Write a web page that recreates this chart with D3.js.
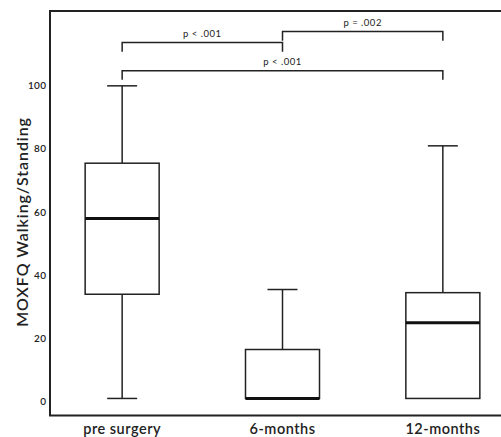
<!DOCTYPE html>
<html>
<head>
<meta charset="utf-8">
<script src="https://cdn.jsdelivr.net/npm/d3@7"></script>
<style>
  body { margin: 0; background: #fff; }
  text { font-family: Lato, "DejaVu Sans", sans-serif; fill: #222; }
</style>
</head>
<body>
<script>
var groups = ["pre surgery", "6-months", "12-months"];
var whiskerLow = [1, 1, 1];
var q1 = [34, 1, 1];
var median = [58, 1, 25];
var q3 = [75.5, 16.5, 34.5];
var whiskerHigh = [100, 35.5, 81];
var yTicks = [0, 20, 40, 60, 80, 100];

// significance brackets: from group, to group, height, label
var bracketFrom = ["pre surgery", "6-months", "pre surgery"];
var bracketTo = ["6-months", "12-months", "12-months"];
var bracketY = [113.7, 117.2, 104.8];
var bracketLabel = ["p < .001", "p = .002", "p < .001"];

function init() {
  var w = 501, h = 437;
  var pLeft = 50, pTop = 11, pBottom = 415.5, pRight = 501;

  var svg = d3.select("body").append("svg")
    .attr("width", w)
    .attr("height", h);

  var y = d3.scaleLinear()
    .domain([-4.4, 123.7])
    .range([pBottom, pTop]);

  var x = d3.scalePoint()
    .domain(groups)
    .range([pLeft, 515])
    .padding(0.45);

  var boxW = 74, capW = 30;

  // frame
  svg.append("path")
    .attr("d", "M" + pRight + "," + pTop + "H" + pLeft + "V" + pBottom + "H" + pRight)
    .attr("fill", "none")
    .attr("stroke", "#222")
    .attr("stroke-width", 2);

  // y tick labels
  svg.selectAll(".ytick")
    .data(yTicks)
    .enter()
    .append("text")
    .attr("x", 46.5)
    .attr("y", function(d) { return y(d); })
    .attr("dy", "0.35em")
    .attr("text-anchor", "end")
    .attr("font-size", 10)
    .attr("letter-spacing", 0.4)
    .attr("font-weight", 600)
    .text(function(d) { return d; });

  svg.append("text")
    .attr("transform", "translate(28,222) rotate(-90)")
    .attr("text-anchor", "middle")
    .attr("font-size", 16)
    .attr("font-weight", 600)
    .attr("letter-spacing", 0.9)
    .text("MOXFQ Walking/Standing");

  // x labels
  svg.selectAll(".xlab")
    .data(groups)
    .enter()
    .append("text")
    .attr("x", function(d) { return x(d); })
    .attr("y", 434)
    .attr("text-anchor", "middle")
    .attr("font-size", 14.5)
    .attr("font-weight", 600)
    .attr("letter-spacing", 0.5)
    .text(function(d) { return d; });

  var g = svg.selectAll(".box")
    .data(groups)
    .enter()
    .append("g");

  // whisker lines
  g.append("line")
    .attr("x1", function(d) { return x(d); })
    .attr("x2", function(d) { return x(d); })
    .attr("y1", function(d, i) { return y(whiskerHigh[i]); })
    .attr("y2", function(d, i) { return y(q3[i]); })
    .attr("stroke", "#222").attr("stroke-width", 1.5);
  g.append("line")
    .attr("x1", function(d) { return x(d); })
    .attr("x2", function(d) { return x(d); })
    .attr("y1", function(d, i) { return y(whiskerLow[i]); })
    .attr("y2", function(d, i) { return y(q1[i]); })
    .attr("stroke", "#222").attr("stroke-width", 1.5);

  // caps
  g.append("line")
    .attr("x1", function(d) { return x(d) - capW / 2; })
    .attr("x2", function(d) { return x(d) + capW / 2; })
    .attr("y1", function(d, i) { return y(whiskerHigh[i]); })
    .attr("y2", function(d, i) { return y(whiskerHigh[i]); })
    .attr("stroke", "#222").attr("stroke-width", 1.5);
  g.append("line")
    .attr("x1", function(d) { return x(d) - capW / 2; })
    .attr("x2", function(d) { return x(d) + capW / 2; })
    .attr("y1", function(d, i) { return y(whiskerLow[i]); })
    .attr("y2", function(d, i) { return y(whiskerLow[i]); })
    .attr("stroke", "#222").attr("stroke-width", 1.5)
    .attr("display", function(d, i) { return whiskerLow[i] < q1[i] ? null : "none"; });

  // boxes
  g.append("rect")
    .attr("x", function(d) { return x(d) - boxW / 2; })
    .attr("y", function(d, i) { return y(q3[i]); })
    .attr("width", boxW)
    .attr("height", function(d, i) { return y(q1[i]) - y(q3[i]); })
    .attr("fill", "#fff")
    .attr("stroke", "#222")
    .attr("stroke-width", 1.5);

  // medians
  g.append("line")
    .attr("x1", function(d) { return x(d) - boxW / 2; })
    .attr("x2", function(d) { return x(d) + boxW / 2; })
    .attr("y1", function(d, i) { return y(median[i]); })
    .attr("y2", function(d, i) { return y(median[i]); })
    .attr("stroke", "#111").attr("stroke-width", 3);

  // brackets
  var tick = 2.9;
  bracketLabel.forEach(function(lab, i) {
    var x1 = x(bracketFrom[i]), x2 = x(bracketTo[i]);
    var yb = y(bracketY[i]), yt = y(bracketY[i] - tick);
    svg.append("path")
      .attr("d", "M" + x1 + "," + yt + "V" + yb + "H" + x2 + "V" + yt)
      .attr("fill", "none")
      .attr("stroke", "#222")
      .attr("stroke-width", 1.5);
    svg.append("text")
      .attr("x", (x1 + x2) / 2)
      .attr("y", yb - 6)
      .attr("text-anchor", "middle")
      .attr("font-size", 9.5)
      .attr("letter-spacing", 0.5)
      .text(lab);
  });
}

init();
</script>
</body>
</html>
